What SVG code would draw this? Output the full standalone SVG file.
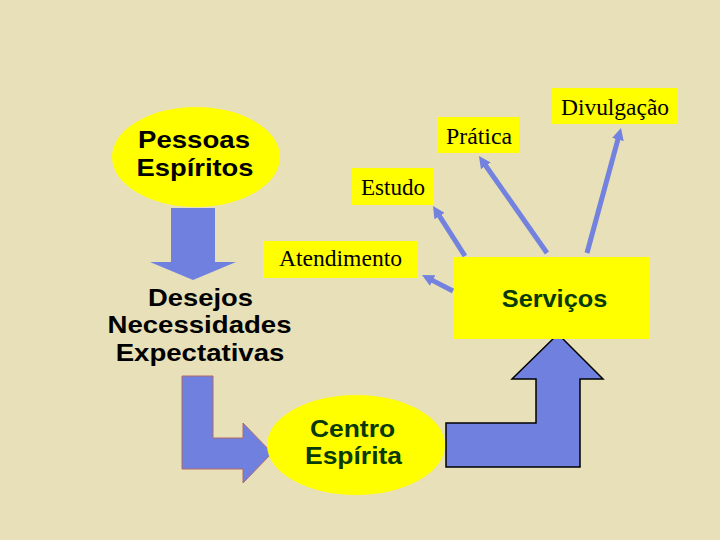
<svg xmlns="http://www.w3.org/2000/svg" width="720" height="540" viewBox="0 0 720 540">
<style>
.bg{fill:#E7E0B9}
.yel{fill:#FFFF00}
.bold{font-family:"Liberation Sans",Arial,sans-serif;font-weight:bold;font-size:23px;text-anchor:middle}
.blk{fill:#000}
.grn{fill:#083A08}
.serif{font-family:"Liberation Serif","Times New Roman",serif;font-size:23px;fill:#000}
.conn{stroke:#7282DE;stroke-width:5;fill:none;marker-end:url(#ah)}
.big{fill:#7080DE}
</style>
<defs>
<marker id="ah" markerUnits="userSpaceOnUse" markerWidth="12" markerHeight="12" refX="2" refY="6" orient="auto">
<path d="M0,0 L12,6 L0,12 z" fill="#7282DE"/>
</marker>
</defs>
<rect class="bg" x="0" y="0" width="720" height="540"/>

<g id="pessoas">
<ellipse class="yel" cx="196" cy="157" rx="84" ry="50"/>
<text class="bold blk" transform="translate(194,148) scale(1.2,1)">Pessoas</text>
<text class="bold blk" transform="translate(195,176) scale(1.19,1)">Espíritos</text>
</g>

<g id="seta-baixo">
<polygon class="big" points="171,208 215,208 215,262 236,262 193,280 150,262 171,262"/>
</g>

<g id="desejos">
<text class="bold blk" transform="translate(200.5,306) scale(1.19,1)">Desejos</text>
<text class="bold blk" transform="translate(199.5,333) scale(1.2,1)">Necessidades</text>
<text class="bold blk" transform="translate(200,361) scale(1.2,1)">Expectativas</text>
</g>

<g id="seta-l">
<polygon class="big" stroke="#B06A6A" stroke-width="1" points="182,376 213,376 213,438 243,438 243,423 272,453 243,483 243,469 182,469"/>
</g>

<g id="centro">
<ellipse class="yel" cx="356" cy="445" rx="89" ry="50"/>
<text class="bold grn" font-size="24" transform="translate(352.5,437) scale(1.15,1)">Centro</text>
<text class="bold grn" font-size="24" transform="translate(353.5,464) scale(1.15,1)">Espírita</text>
</g>

<g id="seta-cima">
<polygon class="big" stroke="#000" stroke-width="1.5" points="446,423 536,423 536,379 512,379 558,334 603,379 580,379 580,467 446,467"/>
</g>

<g id="servicos">
<rect class="yel" x="453" y="257" width="197" height="82"/>
<text class="bold grn" font-size="25" transform="translate(554.5,307) scale(1.1,1)">Serviços</text>
</g>

<g id="atendimento">
<rect class="yel" x="263" y="241" width="155" height="37"/>
<text class="serif" x="279" y="266" textLength="123" lengthAdjust="spacingAndGlyphs">Atendimento</text>
</g>

<g id="estudo">
<rect class="yel" x="352" y="168" width="82" height="37"/>
<text class="serif" x="361" y="195" textLength="64" lengthAdjust="spacingAndGlyphs">Estudo</text>
</g>

<g id="pratica">
<rect class="yel" x="437" y="117" width="82" height="36"/>
<text class="serif" x="446" y="144" textLength="66" lengthAdjust="spacingAndGlyphs">Prática</text>
</g>

<g id="divulgacao">
<rect class="yel" x="552" y="88" width="126" height="36"/>
<text class="serif" x="561" y="115" textLength="108" lengthAdjust="spacingAndGlyphs">Divulgação</text>
</g>

<g id="conectores">
<line class="conn" x1="587" y1="253" x2="618.4" y2="137.6"/>
<line class="conn" x1="547" y1="253" x2="484.7" y2="164.2"/>
<line class="conn" x1="465" y1="256" x2="438.4" y2="214.4"/>
<line class="conn" x1="453" y1="291" x2="430.9" y2="279.6"/>
</g>
</svg>
